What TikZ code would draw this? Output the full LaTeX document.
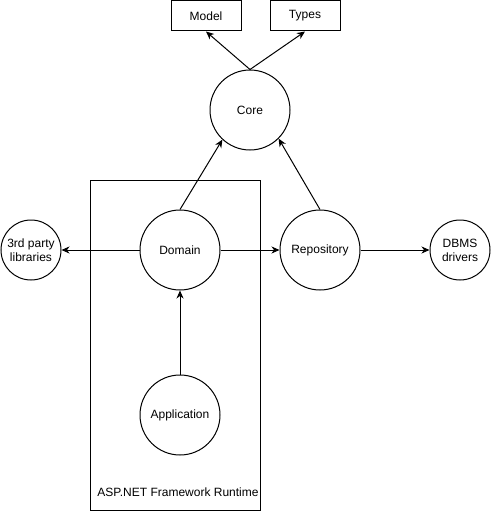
\documentclass[tikz,border=0pt]{standalone}
\usepackage{fontspec}
\setmainfont{Liberation Sans}
\usetikzlibrary{arrows.meta}
\begin{document}
\begin{tikzpicture}[x=1pt,y=-1pt,
  every node/.style={font=\fontsize{12}{14}\selectfont},
  comp/.style={circle,draw,line width=1pt,minimum size=80pt,inner sep=0pt,align=center},
  extcomp/.style={circle,draw,line width=1pt,minimum size=60pt,inner sep=0pt,align=center},
  libbox/.style={rectangle,draw,line width=1pt,minimum width=70pt,minimum height=30pt,inner sep=0pt},
  dep/.style={line width=1pt,-{Stealth[length=8pt,width=7pt,inset=2.5pt]}}]
\useasboundingbox (0,0) rectangle (491,511);
% runtime container
\node[draw,line width=1pt,minimum width=170pt,minimum height=330pt,inner sep=0pt] (runtime) at (175,345) {};
\node (runtimelbl) at (178,492) {ASP.NET Framework Runtime};
% components
\node[libbox] (model) at (206,16) {Model};
\node[libbox] (types) at (305,16) {Types};
\node[comp] (core) at (250,110) {Core};
\node[comp] (domain) at (180,250) {Domain};
\node[comp] (repo) at (320,250) {Repository};
\node[comp] (app) at (180,415) {Application};
\node[extcomp] (libs) at (31,250) {3rd party\\libraries};
\node[extcomp] (dbms) at (460,250) {DBMS\\drivers};
% dependencies
\draw[dep] (core.north) -- (model.south);
\draw[dep] (core.north) -- (types.south);
\draw[dep] (domain.north) -- (core.227);
\draw[dep] (repo.north) -- (core.315);
\draw[dep] (domain.west) -- (libs.east);
\draw[dep] (domain.east) -- (repo.west);
\draw[dep] (repo.east) -- (dbms.west);
\draw[dep] (app.north) -- (domain.south);
\end{tikzpicture}
\end{document}
